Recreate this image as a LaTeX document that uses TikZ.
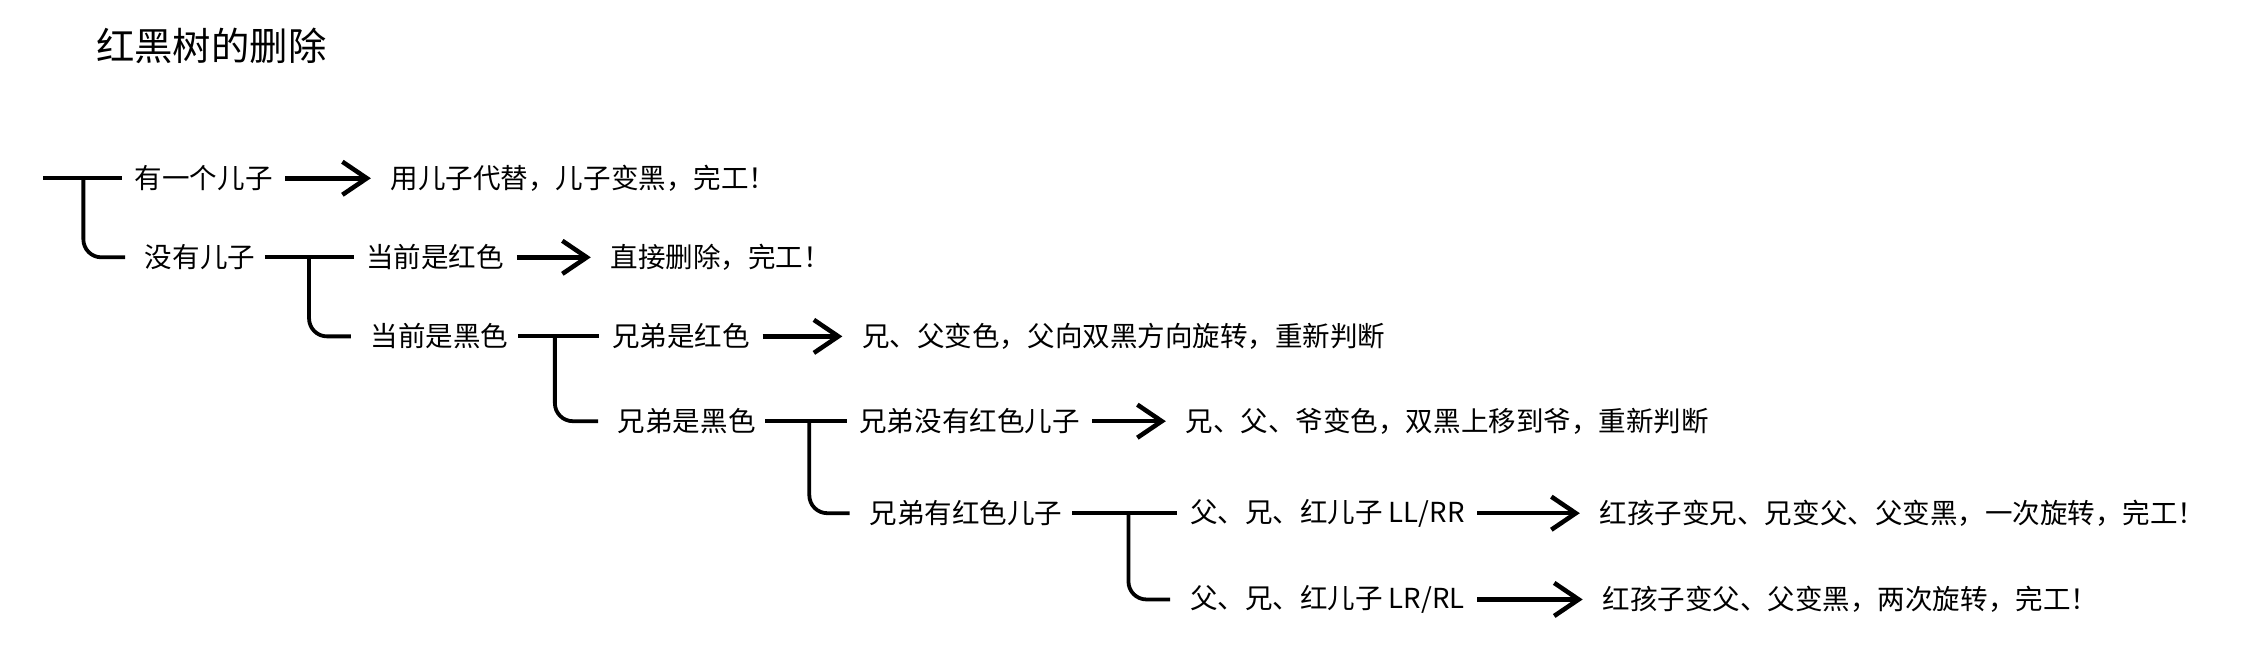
\documentclass[tikz,border=0pt]{standalone}
\usepackage{fontspec}
\setmainfont{Noto Sans CJK SC}
\usetikzlibrary{arrows.meta, positioning}

\begin{document}
\begin{tikzpicture}[
    x=0.02cm, y=-0.02cm,
    item/.style={anchor=west, inner sep=2pt, font=\fontsize{10.9}{13}\selectfont},
    bar/.style={line width=1.5pt, shorten <=0.06cm, shorten >=0.1cm},
    branch/.style={line width=1.5pt, rounded corners=0.25cm, shorten >=0.2cm},
    goto/.style={-{Straight Barb[length=3.4mm, width=4.6mm]}, line width=1.8pt, shorten <=0.1cm, shorten >=0.2cm},
]
    \useasboundingbox (0,0) rectangle (1568,464);

    % Title
    \node[anchor=west, inner sep=2pt, font=\fontsize{15.2}{18}\selectfont] (title) at (63,32) {红黑树的删除};

    % Level 1
    \coordinate (root) at (27,124);
    \coordinate (j0) at (58,124);
    \node[item] (t1) at (90,124) {有一个儿子};
    \node[item] (r1) at (268,124) {用儿子代替，儿子变黑，完工！};
    \node[item] (t2) at (97,179) {没有儿子};

    % Level 2
    \coordinate (j1) at (215,179);
    \node[item] (t21) at (251,179) {当前是红色};
    \node[item] (r21) at (421,179) {直接删除，完工！};
    \node[item] (t22) at (254,234) {当前是黑色};

    % Level 3
    \coordinate (j2) at (386,234);
    \node[item] (t221) at (422,234) {兄弟是红色};
    \node[item] (r221) at (596,234) {兄、父变色，父向双黑方向旋转，重新判断};
    \node[item] (t222) at (426,293) {兄弟是黑色};

    % Level 4
    \coordinate (j3) at (563,293);
    \node[item] (t2221) at (594,293) {兄弟没有红色儿子};
    \node[item] (r2221) at (821,293) {兄、父、爷变色，双黑上移到爷，重新判断};
    \node[item] (t2222) at (601,357) {兄弟有红色儿子};

    % Level 5
    \coordinate (j4) at (785,357);
    \node[item] (c1) at (824,357) {父、兄、红儿子 LL/RR};
    \node[item] (rc1) at (1109,357) {红孩子变兄、兄变父、父变黑，一次旋转，完工！};
    \node[item] (c2) at (824,417) {父、兄、红儿子 LR/RL};
    \node[item] (rc2) at (1111,417) {红孩子变父、父变黑，两次旋转，完工！};

    % Brackets
    \draw[bar] (root) -- (t1.west);
    \draw[branch] (j0) |- (t2.west);
    \draw[bar] (t2.east) -- (t21.west);
    \draw[branch] (j1) |- (t22.west);
    \draw[bar] (t22.east) -- (t221.west);
    \draw[branch] (j2) |- (t222.west);
    \draw[bar] (t222.east) -- (t2221.west);
    \draw[branch] (j3) |- (t2222.west);
    \draw[bar] (t2222.east) -- (c1.west);
    \draw[branch] (j4) |- (c2.west);

    % Arrows
    \draw[goto] (t1) -- (r1);
    \draw[goto] (t21) -- (r21);
    \draw[goto] (t221) -- (r221);
    \draw[goto] (t2221) -- (r2221);
    \draw[goto] (c1) -- (rc1);
    \draw[goto] (c2) -- (rc2);
\end{tikzpicture}
\end{document}
